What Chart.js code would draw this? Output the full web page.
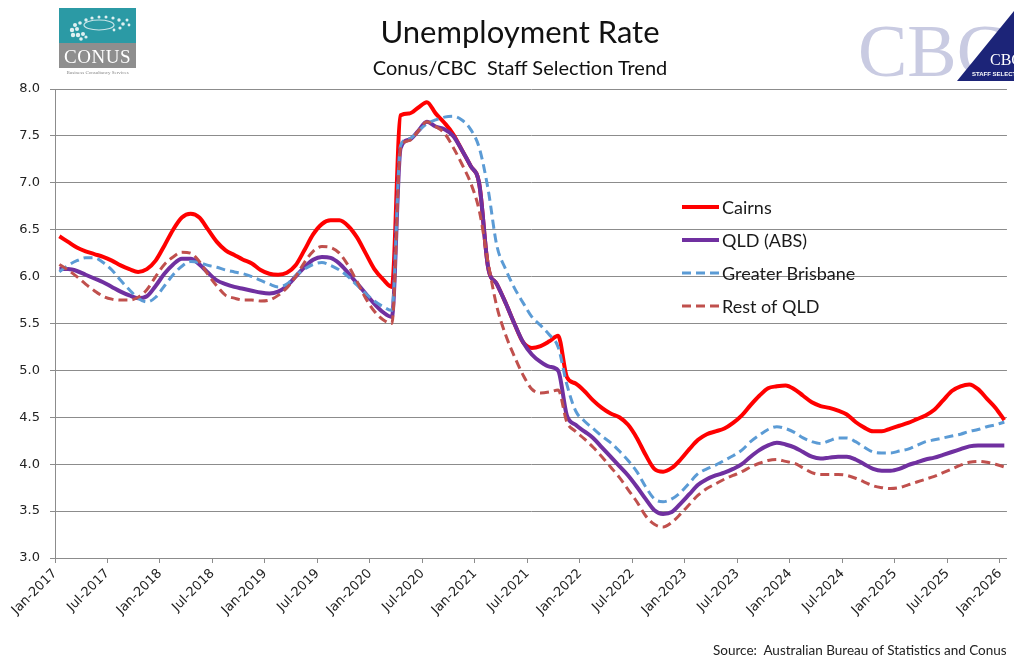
<!DOCTYPE html>
<html>
<head>
<meta charset="utf-8">
<title>Unemployment Rate</title>
<script src="https://cdn.jsdelivr.net/npm/chart.js@4.4.1/dist/chart.umd.min.js"></script>
<style>
  body { margin: 0; background: #fff; }
  #wrap { position: relative; width: 1014px; height: 658px; overflow: hidden; font-family: Lato, "Open Sans", sans-serif; }
  #chart { position: absolute; left: 0; top: 0; }
  .title { position: absolute; left: 0; width: 1040px; text-align: center; color: #111; line-height: 1; }
  #source { position: absolute; left: 713px; top: 642px; font-size: 13.5px; color: #222; white-space: pre; }
  #conus { position: absolute; left: 59px; top: 8px; width: 77px; }
  #conus .top { height: 35px; background: #2b9aa5; }
  #conus .name { height: 25px; background: #8e8e8e; color: #fff; font: 19px "Liberation Serif", serif; text-align: center; line-height: 27px; letter-spacing: 0.5px; }
  #conus .tag { font: 5px "Liberation Serif", serif; color: #888; text-align: center; margin-top: 2px; }
  #cbc { position: absolute; left: 858px; top: 14px; font: 74px "Liberation Serif", serif; color: #c9cbe2; line-height: 1; }
  #tri { position: absolute; left: 950px; top: 8px; }
</style>
</head>
<body>
<div id="wrap">
  <canvas id="chart" width="1014" height="658"></canvas>
  <div class="title" style="top:16px;font-size:31px;">Unemployment Rate</div>
  <div class="title" style="top:57px;font-size:20px;">Conus/CBC&nbsp; Staff Selection Trend</div>
  <div id="conus">
    <div class="top">
      <svg width="77" height="35">
        <g fill="#fff" opacity="0.85">
          <circle cx="14" cy="27" r="2.2"/><circle cx="19" cy="27" r="2.2"/><circle cx="24" cy="26" r="2"/>
          <circle cx="13" cy="22" r="2.2"/><circle cx="18" cy="21" r="2"/><circle cx="16" cy="17" r="2"/>
          <circle cx="21" cy="15" r="1.8"/><circle cx="27" cy="12" r="1.7"/><circle cx="33" cy="10" r="1.6"/>
          <circle cx="40" cy="9" r="1.5"/><circle cx="47" cy="9" r="1.5"/><circle cx="54" cy="10" r="1.6"/>
          <circle cx="60" cy="12" r="1.7"/><circle cx="64" cy="16" r="1.8"/><circle cx="61" cy="20" r="1.6"/>
          <circle cx="55" cy="22" r="1.4"/><circle cx="68" cy="12" r="1.5"/><circle cx="22" cy="31" r="1.8"/>
          <circle cx="27" cy="29" r="1.6"/><circle cx="70" cy="17" r="1.4"/>
        </g>
        <ellipse cx="40" cy="17" rx="15" ry="5" fill="none" stroke="#fff" stroke-width="1.2" opacity="0.75"/>
      </svg>
    </div>
    <div class="name">CONUS</div>
    <div class="tag">Business Consultancy Services</div>
  </div>
  <div id="cbc">CBC</div>
  <svg id="tri" width="64" height="75">
    <polygon points="7,73 64,73 64,3" fill="#1c2478"/>
    <text x="40" y="57" fill="#fff" font-family="Liberation Serif" font-size="16">CBC</text>
    <text x="22" y="68" fill="#fff" font-family="Liberation Sans" font-size="6" font-weight="bold">STAFF SELECTION</text>
  </svg>
  <div id="source">Source:  Australian Bureau of Statistics and Conus</div>
</div>
<script>
// monthly, Jan-2017 .. Jan-2026
const tickLabels = ['Jan-2017', 'Jul-2017', 'Jan-2018', 'Jul-2018', 'Jan-2019', 'Jul-2019', 'Jan-2020',
  'Jul-2020', 'Jan-2021', 'Jul-2021', 'Jan-2022', 'Jul-2022', 'Jan-2023', 'Jul-2023', 'Jan-2024',
  'Jul-2024', 'Jan-2025', 'Jul-2025', 'Jan-2026'];

const cairns = [
  6.43, 6.37, 6.31, 6.27, 6.24, 6.21, 6.17, 6.12, 6.08, 6.05, 6.08, 6.17,
  6.33, 6.50, 6.63, 6.67, 6.63, 6.50, 6.37, 6.28, 6.23, 6.18, 6.14, 6.07,
  6.03, 6.02, 6.04, 6.12, 6.28, 6.45, 6.56, 6.60, 6.60, 6.54, 6.42, 6.25,
  6.08, 5.97, 5.89, 7.72, 7.74, 7.80, 7.86, 7.74, 7.64, 7.52, 7.35, 7.18,
  6.98, 6.10, 5.92, 5.72, 5.50, 5.30, 5.24, 5.26, 5.31, 5.37, 4.93, 4.86,
  4.78, 4.68, 4.60, 4.54, 4.50, 4.42, 4.28, 4.10, 3.95, 3.92, 3.96, 4.05,
  4.16, 4.26, 4.32, 4.35, 4.38, 4.44, 4.52, 4.63, 4.73, 4.81, 4.83, 4.84,
  4.80, 4.73, 4.66, 4.62, 4.60, 4.57, 4.53, 4.45, 4.39, 4.35, 4.35, 4.38,
  4.41, 4.44, 4.48, 4.52, 4.58, 4.68, 4.78, 4.83, 4.85, 4.80, 4.70, 4.60,
  4.47
];

const qld = [
  6.08, 6.08, 6.06, 6.02, 5.98, 5.94, 5.89, 5.84, 5.80, 5.77, 5.79, 5.90,
  6.03, 6.13, 6.19, 6.19, 6.13, 6.04, 5.96, 5.92, 5.89, 5.87, 5.85, 5.83,
  5.82, 5.84, 5.90, 6.00, 6.10, 6.18, 6.21, 6.20, 6.14, 6.04, 5.93, 5.82,
  5.71, 5.62, 5.57, 7.37, 7.46, 7.55, 7.65, 7.60, 7.57, 7.50, 7.35, 7.18,
  6.98, 6.10, 5.92, 5.72, 5.50, 5.30, 5.17, 5.09, 5.04, 5.00, 4.52, 4.42,
  4.35, 4.28, 4.18, 4.08, 3.98, 3.88, 3.76, 3.63, 3.51, 3.47, 3.49, 3.58,
  3.68, 3.78, 3.84, 3.88, 3.91, 3.95, 4.00, 4.08, 4.15, 4.20, 4.23, 4.21,
  4.18, 4.13, 4.08, 4.06, 4.07, 4.08, 4.08, 4.05, 4.00, 3.95, 3.93, 3.93,
  3.95, 3.99, 4.02, 4.05, 4.07, 4.10, 4.13, 4.16, 4.19, 4.20, 4.20, 4.20,
  4.20
];

const brisbane = [
  6.05, 6.12, 6.17, 6.20, 6.20, 6.15, 6.07, 5.96, 5.86, 5.77, 5.73, 5.78,
  5.90, 6.02, 6.11, 6.16, 6.15, 6.12, 6.10, 6.07, 6.05, 6.03, 6.00, 5.96,
  5.92, 5.89, 5.92, 6.01, 6.08, 6.13, 6.15, 6.12, 6.07, 6.00, 5.91, 5.82,
  5.74, 5.68, 5.64, 7.40, 7.47, 7.55, 7.63, 7.67, 7.70, 7.71, 7.67, 7.57,
  7.37, 6.93, 6.33, 6.08, 5.88, 5.72, 5.57, 5.48, 5.38, 5.25, 4.85, 4.57,
  4.46, 4.38, 4.30, 4.23, 4.14, 4.04, 3.92, 3.76, 3.63, 3.60, 3.63, 3.70,
  3.80, 3.90, 3.95, 3.99, 4.04, 4.09, 4.15, 4.24, 4.31, 4.37, 4.40, 4.38,
  4.34, 4.28, 4.24, 4.22, 4.25, 4.28, 4.28, 4.24, 4.18, 4.13, 4.12, 4.12,
  4.14, 4.16, 4.20, 4.24, 4.26, 4.28, 4.30, 4.32, 4.35, 4.37, 4.40, 4.42,
  4.45
];

const restQld = [
  6.13, 6.07, 6.00, 5.92, 5.85, 5.79, 5.76, 5.75, 5.75, 5.78, 5.86, 6.00,
  6.13, 6.21, 6.26, 6.25, 6.16, 6.02, 5.90, 5.80, 5.77, 5.75, 5.75, 5.74,
  5.75, 5.80, 5.88, 6.00, 6.15, 6.27, 6.32, 6.31, 6.25, 6.12, 5.95, 5.77,
  5.63, 5.54, 5.50, 7.37, 7.45, 7.55, 7.65, 7.60, 7.53, 7.38, 7.20, 7.00,
  6.70, 6.15, 5.68, 5.38, 5.15, 4.95, 4.80, 4.76, 4.77, 4.79, 4.45, 4.35,
  4.27, 4.18, 4.08, 3.97, 3.86, 3.73, 3.60, 3.45, 3.36, 3.33, 3.38, 3.47,
  3.57, 3.67, 3.74, 3.79, 3.84, 3.88, 3.92, 3.97, 4.01, 4.04, 4.05, 4.03,
  4.01, 3.96, 3.91, 3.89, 3.89, 3.89, 3.88, 3.85, 3.81, 3.77, 3.75, 3.74,
  3.75, 3.78, 3.81, 3.84, 3.87, 3.91, 3.95, 3.99, 4.02, 4.03, 4.02, 4.00,
  3.97
];

// monthly readings sit mid-month on the date axis
const toPoints = (arr) => arr.map((v, i) => ({ x: i + 0.5, y: v }));

const insideLegend = {
  id: 'insideLegend',
  afterDraw(chart) {
    const ctx = chart.ctx;
    ctx.save();
    ctx.font = '18px Lato';
    ctx.textBaseline = 'middle';
    chart.data.datasets.forEach((ds, k) => {
      const y = 207 + k * 33;
      ctx.strokeStyle = ds.borderColor;
      ctx.lineWidth = ds.borderWidth;
      ctx.setLineDash(ds.borderDash || []);
      ctx.beginPath();
      ctx.moveTo(682, y);
      ctx.lineTo(719, y);
      ctx.stroke();
      ctx.setLineDash([]);
      ctx.fillStyle = '#1a1a1a';
      ctx.fillText(ds.label, 722, y + 1);
    });
    ctx.restore();
  }
};

const gridColor = '#8c8c8c';

new Chart('chart', {
  type: 'line',
  data: {
    datasets: [
      { label: 'Cairns', data: toPoints(cairns), borderColor: '#ff0000', borderWidth: 4, order: 3 },
      { label: 'QLD (ABS)', data: toPoints(qld), borderColor: '#7030a0', borderWidth: 4, order: 2 },
      { label: 'Greater Brisbane', data: toPoints(brisbane), borderColor: '#5b9bd5', borderWidth: 3, borderDash: [9, 5], order: 1 },
      { label: 'Rest of QLD', data: toPoints(restQld), borderColor: '#c0504d', borderWidth: 3, borderDash: [9, 5], order: 0 },
    ],
  },
  options: {
    responsive: false,
    animation: false,
    layout: { padding: { top: 89, right: 3, left: 0, bottom: 0 } },
    elements: {
      point: { radius: 0 },
      line: { cubicInterpolationMode: 'monotone', fill: false },
    },
    plugins: { legend: { display: false }, tooltip: { enabled: false } },
    scales: {
      x: {
        type: 'linear',
        min: 0,
        max: 108.8,
        afterBuildTicks: (s) => { s.ticks = tickLabels.map((_, k) => ({ value: k * 6 })); },
        afterFit: (s) => { s.height = 100; },
        grid: { drawOnChartArea: false, color: gridColor, tickLength: 5 },
        border: { color: gridColor },
        ticks: {
          autoSkip: false,
          minRotation: 45,
          maxRotation: 45,
          color: '#222',
          font: { family: 'DejaVu Sans', size: 13 },
          callback: (v, i) => tickLabels[i],
        },
      },
      y: {
        min: 3,
        max: 8,
        afterFit: (s) => { s.width = 55; },
        grid: { color: gridColor, tickLength: 5 },
        border: { color: gridColor },
        ticks: {
          stepSize: 0.5,
          padding: 10,
          color: '#222',
          font: { family: 'DejaVu Sans', size: 13 },
          callback: (v) => v.toFixed(1),
        },
      },
    },
  },
  plugins: [insideLegend],
});
</script>
</body>
</html>
